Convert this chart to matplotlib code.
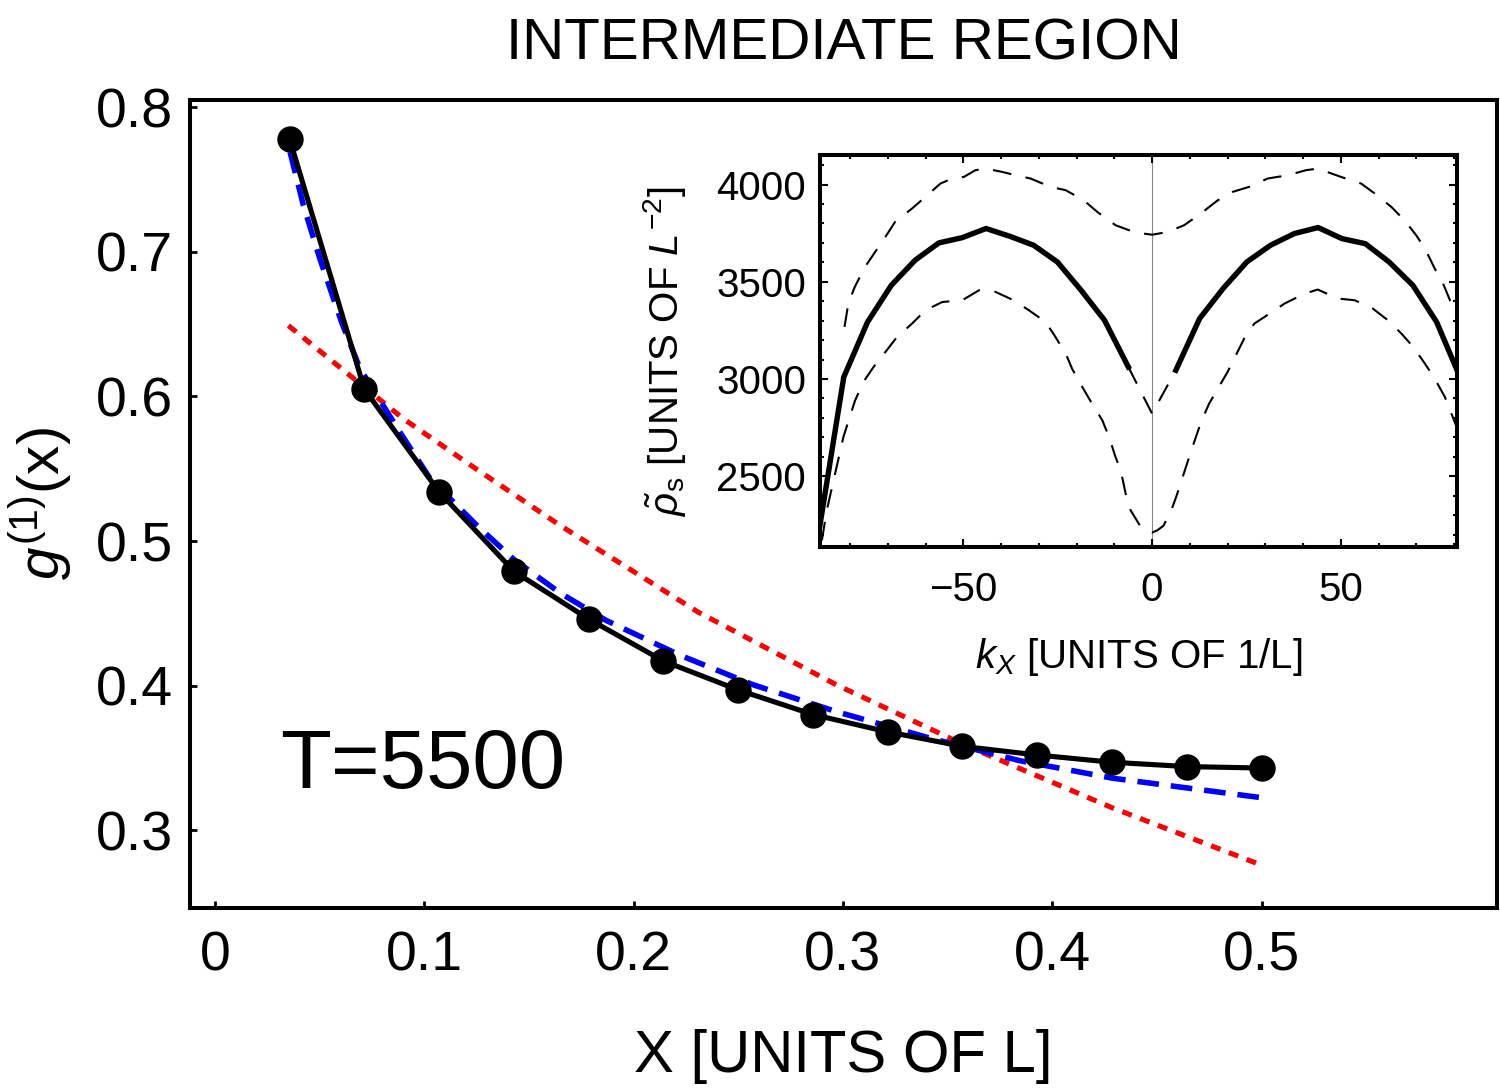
import matplotlib
matplotlib.use("Agg")
import matplotlib.pyplot as plt

plt.rcParams['font.family'] = ['Liberation Sans', 'DejaVu Sans']
plt.rcParams['mathtext.fontset'] = 'custom'
plt.rcParams['mathtext.rm'] = 'Liberation Sans'
plt.rcParams['mathtext.it'] = 'Liberation Sans:italic'
plt.rcParams['mathtext.bf'] = 'Liberation Sans:bold'

# main panel: g1(x) data points and the two fits
x_data = [0.0357, 0.0714, 0.1071, 0.1429, 0.1786, 0.2143, 0.25, 0.2857,
          0.3214, 0.3571, 0.3929, 0.4286, 0.4643, 0.5]
g1_data = [0.778, 0.605, 0.534, 0.479, 0.446, 0.417, 0.397, 0.380,
           0.368, 0.358, 0.352, 0.347, 0.344, 0.343]

x_blue = [0.0359, 0.0423, 0.0502, 0.0606, 0.0694, 0.0885, 0.1029, 0.125,
          0.143, 0.165, 0.187, 0.2222, 0.2573, 0.2969, 0.3408, 0.3847,
          0.4287, 0.4946, 0.5]
g1_blue = [0.769, 0.732, 0.695, 0.651, 0.619, 0.575, 0.543, 0.511,
           0.487, 0.464, 0.445, 0.421, 0.4005, 0.382, 0.364, 0.348,
           0.336, 0.3235, 0.3225]

x_red = [0.0351, 0.0901, 0.1236, 0.165, 0.231, 0.297, 0.358, 0.4287, 0.499]
g1_red = [0.649, 0.5845, 0.551, 0.5107, 0.4507, 0.4005, 0.359, 0.3155, 0.2764]

# inset: superfluid density vs k_x
k_left = [-88.0, -81.7, -75.4, -69.1, -62.8, -56.5, -50.3, -44.0, -37.7,
          -31.4, -25.1, -18.8, -12.6, -6.3]
rho_left = [2250, 3010, 3293, 3482, 3611, 3700, 3727, 3774, 3734,
            3688, 3602, 3456, 3302, 3062]
k_right = [6.3, 12.6, 18.8, 25.1, 31.4, 37.7, 44.0, 50.3, 56.5, 62.8,
           69.1, 75.4, 81.7]
rho_right = [3045, 3311, 3465, 3602, 3688, 3748, 3779, 3722, 3696, 3602,
             3482, 3293, 3005]
k_mid = [-6.3, 0.0, 6.3]
rho_mid = [3062, 2822, 3045]

k_upper = [-81.5, -80.5, -78.8, -76.1, -73.4, -70.7, -68.1, -63.6, -60.1,
           -56.1, -53.0, -49.9, -46.8, -44.1, -39.7, -36.2, -32.2, -26.9,
           -22.9, -18.1, -14.5, -9.7, -6.1, -3.0, 0.0, 4.1, 8.5, 12.9, 17.4,
           21.3, 26.2, 30.6, 36.0, 40.8, 43.9, 50.1, 55.4, 59.0, 63.4, 66.9,
           70.0, 72.3, 74.9, 77.1, 79.3, 81.7]
rho_upper = [3268, 3388, 3473, 3576, 3653, 3730, 3808, 3877, 3936,
             4005, 4031, 4039, 4074, 4082, 4065, 4048, 4031, 3988,
             3971, 3919, 3859, 3791, 3765, 3750, 3742, 3756, 3791, 3851, 3919,
             3962, 3991, 4031, 4048, 4074, 4082, 4039, 4005, 3954, 3885, 3816,
             3739, 3671, 3568, 3491, 3388, 3280]

k_lower = [-87.5, -86.2, -84.0, -81.8, -78.7, -76.5, -73.8, -70.3, -67.6,
           -63.6, -60.1, -55.6, -50.3, -45.9, -44.1, -41.5, -36.7, -32.6,
           -28.2, -25.6, -22.9, -21.2, -18.5, -15.9, -13.2, -11.4, -9.7,
           -8.3, -7.0, -5.7, -3.0, 0.0, 1.4, 3.0, 5.0, 6.5, 8.1, 10.7, 13.0,
           15.1, 20.0, 24.4, 27.1, 31.1, 35.1, 40.4, 43.9, 49.2, 53.7, 58.5,
           62.5, 66.1, 69.2, 72.3, 74.9, 77.6, 80.7, 81.7]
rho_lower = [2170, 2325, 2513, 2702, 2890, 2985, 3062, 3148, 3216,
             3285, 3353, 3396, 3405, 3456, 3456, 3448, 3405, 3353,
             3293, 3216, 3131, 3053, 2959, 2873, 2788, 2702, 2599,
             2530, 2410, 2325, 2239, 2210, 2222, 2245, 2320, 2400, 2496, 2650,
             2780, 2873, 3036, 3208, 3285, 3336, 3388, 3439, 3460, 3414, 3405,
             3362, 3302, 3233, 3165, 3079, 3002, 2907, 2753, 2700]

W, H = 1500, 1089
fig = plt.figure(figsize=(W / 100, H / 100), dpi=100)

# main axes (pixel box 190..1497 x 100..908)
ax = fig.add_axes([190 / W, 1 - 908 / H, 1307 / W, 808 / H])
ax.plot(x_red, g1_red, color='red', lw=3.7, linestyle=(0, (1.95, 1.75)),
        dash_capstyle='butt', zorder=2)
ax.plot(x_blue, g1_blue, color='blue', lw=4, linestyle=(0, (3.9, 2.15)),
        dash_capstyle='butt', zorder=3)
ax.plot(x_data, g1_data, color='black', lw=3.7, marker='o', markersize=18,
        zorder=4)

ax.set_xlim(-0.0119, 0.6125)
ax.set_ylim(0.2462, 0.805)
ax.set_xticks([0, 0.1, 0.2, 0.3, 0.4, 0.5])
ax.set_xticklabels(['0', '0.1', '0.2', '0.3', '0.4', '0.5'])
ax.set_yticks([0.3, 0.4, 0.5, 0.6, 0.7, 0.8])
ax.set_yticklabels(['0.3', '0.4', '0.5', '0.6', '0.7', '0.8'])
ax.tick_params(direction='in', length=5, width=2, labelsize=40)
ax.tick_params(axis='x', pad=16)
ax.tick_params(axis='y', pad=12)
for s in ax.spines.values():
    s.set_linewidth(2.9)

ax.set_xlabel('X [UNITS OF L]', fontsize=43, labelpad=34)
ax.set_ylabel('$g^{(1)}$(x)', fontsize=42, labelpad=16)
ax.text(0.031, 0.329, 'T=5500', fontsize=60, va='baseline', ha='left')

fig.text(843.5 / W, 1 - 60 / H, 'INTERMEDIATE REGION', fontsize=42,
         ha='center', va='baseline')

# inset (pixel box 820..1457 x 155..547)
ins = fig.add_axes([820 / W, 1 - 547 / H, 637 / W, 392 / H])
ins.axvline(0, color='#888888', lw=0.8, zorder=1)
ins.plot(k_upper, rho_upper, color='black', lw=1.5, linestyle=(0, (9, 7)))
ins.plot(k_lower, rho_lower, color='black', lw=1.5, linestyle=(0, (9, 7)))
ins.plot(k_mid, rho_mid, color='black', lw=1.5, linestyle=(0, (9, 7)))
ins.plot(k_left, rho_left, color='black', lw=3.9)
ins.plot(k_right, rho_right, color='black', lw=3.9)

ins.set_xlim(-88.0, 80.8)
ins.set_ylim(2136, 4152)
ins.set_xticks([-50, 0, 50])
ins.set_xticks(range(-80, 81, 10), minor=True)
ins.set_yticks([2500, 3000, 3500, 4000])
ins.set_yticks(range(2200, 4101, 100), minor=True)
ins.tick_params(which='both', direction='in', top=True, right=True,
                labelsize=29, width=1.5)
ins.tick_params(which='major', length=6)
ins.tick_params(which='minor', length=3)
ins.tick_params(axis='x', pad=17)
ins.tick_params(axis='y', pad=10)
for s in ins.spines.values():
    s.set_linewidth(2.9)
ins.set_xlabel('$k_X$ [UNITS OF 1/L]', fontsize=29, labelpad=20)
ins.set_ylabel(r'$\tilde{\rho}_{\mathrm{s}}$ [UNITS OF $L^{-2}$]',
               fontsize=29, labelpad=20)

fig.savefig('out.png', dpi=100)
